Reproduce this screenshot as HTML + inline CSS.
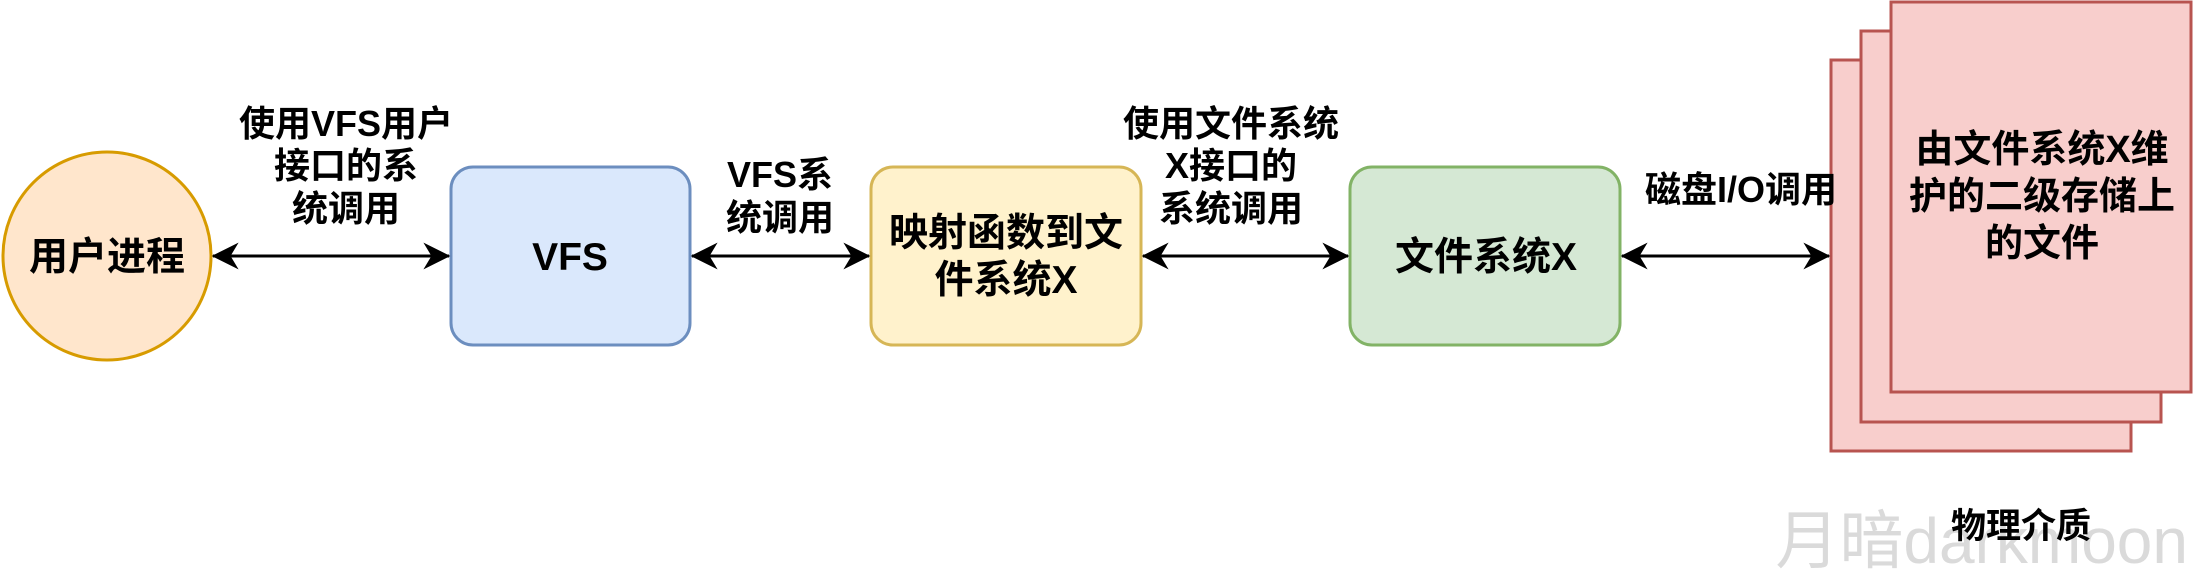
<!DOCTYPE html>
<html><head><meta charset="utf-8"><style>
html,body{margin:0;padding:0;background:#fff;}
svg text{font-family:"Liberation Sans","Noto Sans CJK SC",sans-serif;font-weight:bold;fill:#000;text-anchor:middle;}
</style></head><body>
<svg width="2196" height="576" viewBox="0 0 2196 576" xmlns="http://www.w3.org/2000/svg">
<defs>
<marker id="ah" viewBox="0 0 20 20" refX="19" refY="10" markerWidth="9" markerHeight="9" orient="auto-start-reverse" markerUnits="strokeWidth">
<path d="M0,0 L20,10 L0,20 L6,10 Z" fill="#000"/>
</marker>
</defs>
<ellipse cx="107" cy="256" rx="104" ry="104" fill="#ffe6cc" stroke="#d79b00" stroke-width="3"/>
<text x="107" y="270" font-size="39">用户进程</text>
<rect x="451" y="167" width="239" height="178" rx="22" fill="#dae8fc" stroke="#6c8ebf" stroke-width="3"/>
<text x="570" y="270" font-size="39">VFS</text>
<rect x="871" y="167" width="270" height="178" rx="22" fill="#fff2cc" stroke="#d6b656" stroke-width="3"/>
<text x="1006" y="246" font-size="39">映射函数到文</text>
<text x="1006" y="293" font-size="39">件系统X</text>
<rect x="1350" y="167" width="270" height="178" rx="22" fill="#d5e8d4" stroke="#82b366" stroke-width="3"/>
<text x="1486" y="270" font-size="39">文件系统X</text>
<rect x="1831" y="60" width="300" height="391" fill="#f8cecc" stroke="#b85450" stroke-width="3"/>
<rect x="1861" y="31" width="300" height="391" fill="#f8cecc" stroke="#b85450" stroke-width="3"/>
<rect x="1891" y="2" width="300" height="390" fill="#f8cecc" stroke="#b85450" stroke-width="3"/>
<text x="2042" y="162" font-size="38">由文件系统X维</text>
<text x="2042" y="209" font-size="38">护的二级存储上</text>
<text x="2042" y="256" font-size="38">的文件</text>
<g stroke="#000" stroke-width="3" fill="none">
<line x1="213" y1="256" x2="449" y2="256" marker-start="url(#ah)" marker-end="url(#ah)"/>
<line x1="692" y1="256" x2="869" y2="256" marker-start="url(#ah)" marker-end="url(#ah)"/>
<line x1="1143" y1="256" x2="1348" y2="256" marker-start="url(#ah)" marker-end="url(#ah)"/>
<line x1="1622" y1="256" x2="1829" y2="256" marker-start="url(#ah)" marker-end="url(#ah)"/>
</g>
<g font-size="36">
<text x="346" y="136">使用VFS用户</text>
<text x="346" y="178">接口的系</text>
<text x="346" y="221">统调用</text>
<text x="780" y="187">VFS系</text>
<text x="780" y="230">统调用</text>
<text x="1231" y="136">使用文件系统</text>
<text x="1231" y="178">X接口的</text>
<text x="1231" y="221">系统调用</text>
<text x="1741" y="202">磁盘I/O调用</text>
</g>
<text x="2188" y="563" font-size="64" style="font-weight:normal;text-anchor:end;fill:#dadada">月暗darkmoon</text>
<text x="2021" y="538" font-size="35">物理介质</text>
</svg>
</body></html>
